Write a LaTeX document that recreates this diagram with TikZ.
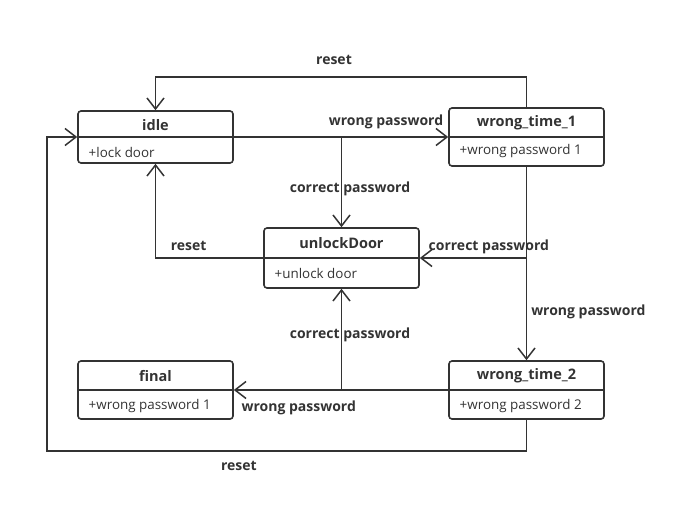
\documentclass[tikz,border=0pt]{standalone}
\usepackage{fontspec}
\setmainfont{Open Sans}
\usetikzlibrary{arrows.meta,positioning,calc}
\definecolor{ink}{HTML}{333333}

\begin{document}
\begin{tikzpicture}[
				x=1pt, y=1pt,
				state/.style={draw=ink, line width=1.6pt, rounded corners=3pt, minimum width=155pt, minimum height=58pt, inner sep=0pt},
				stateName/.style={text=ink, font=\fontsize{14.5}{16}\selectfont\bfseries},
				stateBody/.style={text=ink, font=\fontsize{13.4}{15}\selectfont, anchor=west},
				wire/.style={draw=ink, line width=1.5pt},
				conn/.style={wire, -{Straight Barb[length=11pt,width=17pt]}},
				lbl/.style={text=ink, font=\fontsize{14}{16}\selectfont\bfseries, inner sep=0pt, text height=9.5pt, text depth=2pt}]
			\path[use as bounding box] (0,0) rectangle (699,-509);

			% states
			\node [state, minimum height=52pt] (idle) at (155.5,-137) {};
			\node [state] (wt1) at (526.5,-137) {};
			\node [state, minimum height=60pt] (unlock) at (341.5,-258) {};
			\node [state] (final) at (155.5,-390) {};
			\node [state] (wt2) at (526.5,-390) {};

			\draw [wire, line width=1.6pt] (idle.west) -- (idle.east);
			\draw [wire, line width=1.6pt] (wt1.west) -- (wt1.east);
			\draw [wire, line width=1.6pt] (unlock.west) -- (unlock.east);
			\draw [wire, line width=1.6pt] (final.west) -- (final.east);
			\draw [wire, line width=1.6pt] (wt2.west) -- (wt2.east);

			\node [stateName] (idleName) at ($(idle.center)+(0,11.5)$) {idle};
			\node [stateBody] (idleBody) at ($(idle.west)+(8,-15)$) {+lock door};
			\node [stateName] (wt1Name) at ($(wt1.center)+(0,14)$) {wrong\_time\_1};
			\node [stateBody] (wt1Body) at ($(wt1.west)+(8,-14.5)$) {+wrong password 1};
			\node [stateName] (unlockName) at ($(unlock.center)+(0,15)$) {unlockDoor};
			\node [stateBody] (unlockBody) at ($(unlock.west)+(8,-15)$) {+unlock door};
			\node [stateName] (finalName) at ($(final.center)+(0,14)$) {final};
			\node [stateBody] (finalBody) at ($(final.west)+(8,-16)$) {+wrong password 1};
			\node [stateName] (wt2Name) at ($(wt2.center)+(0,14.5)$) {wrong\_time\_2};
			\node [stateBody] (wt2Body) at ($(wt2.west)+(8,-16)$) {+wrong password 2};

			% junctions
			\coordinate (j1) at (idle.east -| unlock.north);
			\coordinate (j2) at (wt1.south |- unlock.east);
			\coordinate (j3) at (unlock.south |- wt2.west);
			\coordinate (c1) at ($(idle.west)+(-30,0)$);

			% transitions
			\draw [conn] (wt1.north) -- ++(0,30) -| node [lbl, pos=0.25, above=10pt, xshift=-7pt] {reset} (idle.north);
			\draw [conn] (idle.east) -- node [lbl, pos=0.71, above=9pt] {wrong password} (wt1.west);
			\draw [conn] (j1) -- node [lbl, pos=0.577, xshift=8.5pt] {correct password} (unlock.north);
			\draw [conn] (unlock.west) -| node [lbl, pos=0.346, above=5pt] {reset} (idle.south);
			\draw [conn] (wt1.south) -- node [lbl, pos=0.75, right=4pt] {wrong password} (wt2.north);
			\draw [conn] (j2) -- node [lbl, pos=0.353, above=5pt] {correct password} (unlock.east);
			\draw [conn] (wt2.west) -- node [lbl, pos=0.697, below=11pt] {wrong password} (final.east);
			\draw [conn] (j3) -- node [lbl, pos=0.55, xshift=8.5pt] {correct password} (unlock.south);
			\draw [conn] (wt2.south) -- ++(0,-31) -| node [lbl, pos=0.3, below=9pt] {reset} (c1) -- (idle.west);
		\end{tikzpicture}
\end{document}
